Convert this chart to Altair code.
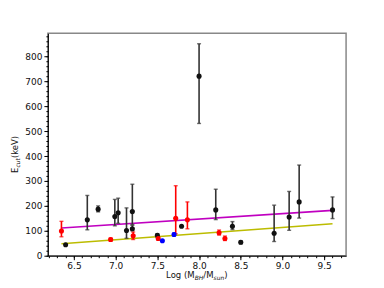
import altair as alt
import pandas as pd

# ---- data ----
black_x  = [6.40, 6.66, 6.79, 6.99, 7.03, 7.13, 7.20, 7.20, 7.50, 7.79, 8.00, 8.20, 8.40, 8.50, 8.90, 9.08, 9.20, 9.60]
black_y  = [44, 144, 187, 157, 172, 101, 177, 108, 82, 118, 721, 184, 118, 54, 90, 155, 216, 184]
black_lo = [None, 104, 176, 120, 130, 70, 125, 100, 75, None, 531, 145, 105, 48, 57, 102, 151, 149]
black_hi = [None, 242, 200, 226, 231, 192, 287, 122, 88, None, 851, 267, 137, 60, 203, 258, 364, 236]

red_x  = [6.35, 6.94, 7.21, 7.51, 7.72, 7.86, 8.24, 8.31]
red_y  = [99, 65, 80, 69, 150, 144, 92, 69]
red_lo = [76, 58, 65, 63, 88, 108, 83, 61]
red_hi = [138, 71, 95, 76, 281, 216, 103, 79]

blue_x  = [7.56, 7.70]
blue_y  = [60, 85]
blue_lo = [None, 80]
blue_hi = [None, 91]

fit_x = [6.35, 9.60]
fit_magenta = [111, 182]
fit_yellow = [48, 128]

x_major = [6.5, 7.0, 7.5, 8.0, 8.5, 9.0, 9.5]
x_minor = [round(6.2 + 0.1 * i, 1) for i in range(36)]
y_major = [0, 100, 200, 300, 400, 500, 600, 700, 800]
y_minor = list(range(0, 900, 20))

# ---- tables ----
rows = []
for g, xs_, ys_, los, his in [("black", black_x, black_y, black_lo, black_hi),
                              ("red", red_x, red_y, red_lo, red_hi),
                              ("blue", blue_x, blue_y, blue_lo, blue_hi)]:
    for a, b, c, d in zip(xs_, ys_, los, his):
        rows.append({"x": a, "y": b, "lo": c, "hi": d, "g": g})
df = pd.DataFrame(rows)

fits = pd.DataFrame(
    [{"x": a, "y": b, "f": "m"} for a, b in zip(fit_x, fit_magenta)] +
    [{"x": a, "y": b, "f": "y"} for a, b in zip(fit_x, fit_yellow)]
)

FONT = "DejaVu Sans"
xs = alt.Scale(domain=[6.1875, 9.7625], nice=False, zero=False)
ys = alt.Scale(domain=[0, 893], nice=False, zero=False)
col = alt.Color("g:N", scale=alt.Scale(domain=["black", "red", "blue"],
                                        range=["#111111", "#ff0000", "#0000ff"]), legend=None)
ecol = alt.Color("g:N", scale=alt.Scale(domain=["black", "red", "blue"],
                                         range=["#333333", "#ff0000", "#0000ff"]), legend=None)

ax_major_x = alt.Axis(values=x_major, format=".1f", tickSize=4, orient="bottom", grid=False,
                      domainColor="#000000", tickColor="#000000", labelFont=FONT, labelFontSize=9,
                      labelColor="#111111", title=None, labelPadding=2)
ax_major_y = alt.Axis(values=y_major, format="d", tickSize=4, orient="left", grid=False,
                      domainColor="#000000", tickColor="#000000", labelFont=FONT, labelFontSize=9,
                      labelColor="#111111", title=None, labelPadding=2)

lines = alt.Chart(fits).mark_line(strokeWidth=1.6).encode(
    x=alt.X("x:Q", scale=xs, axis=ax_major_x),
    y=alt.Y("y:Q", scale=ys, axis=ax_major_y),
    color=alt.Color("f:N", scale=alt.Scale(domain=["m", "y"], range=["#c000c0", "#bcbc00"]), legend=None),
    detail="f:N",
)

minor = alt.Chart(fits).mark_point(opacity=0).encode(
    x=alt.X("x:Q", scale=xs, axis=alt.Axis(values=x_minor, labels=False, tickSize=2, orient="bottom",
                                           domain=False, grid=False, title=None, tickColor="#000000")),
    y=alt.Y("y:Q", scale=ys, axis=alt.Axis(values=y_minor, labels=False, tickSize=2, orient="left",
                                           domain=False, grid=False, title=None, tickColor="#000000")),
)

err = alt.Chart(df).transform_filter("isValid(datum.lo)").mark_rule(strokeWidth=1.6).encode(
    x=alt.X("x:Q", scale=xs, axis=None), y=alt.Y("lo:Q", scale=ys, axis=None), y2="hi:Q", color=ecol)
cap_lo = alt.Chart(df).transform_filter("isValid(datum.lo)").mark_tick(
    orient="horizontal", size=4, thickness=1.4).encode(
    x=alt.X("x:Q", scale=xs, axis=None), y=alt.Y("lo:Q", scale=ys, axis=None), color=ecol)
cap_hi = alt.Chart(df).transform_filter("isValid(datum.hi)").mark_tick(
    orient="horizontal", size=4, thickness=1.4).encode(
    x=alt.X("x:Q", scale=xs, axis=None), y=alt.Y("hi:Q", scale=ys, axis=None), color=ecol)
pts = alt.Chart(df).mark_circle(size=26, opacity=1).encode(
    x=alt.X("x:Q", scale=xs, axis=None), y=alt.Y("y:Q", scale=ys, axis=None), color=col)

# axis titles with subscripts, as text pieces
def txt(s, x, y, size, angle=0, style="normal"):
    return alt.Chart(pd.DataFrame({"t": [s]})).mark_text(
        text=s, font=FONT, fontSize=size, angle=angle, align="left", baseline="alphabetic",
        fontStyle=style, color="#111111").encode(x=alt.value(x), y=alt.value(y))

xt_y = 245
xtitle = [
    txt("Log (M", 118.5, xt_y, 8.5),
    txt("BH", 147.2, xt_y + 2, 6, style="italic"),
    txt("/M", 155.9, xt_y, 8.5),
    txt("sun", 166.1, xt_y + 2, 6, style="italic"),
    txt(")", 176.9, xt_y, 8.5),
]
yt_x = -30
ytitle = [
    txt("E", yt_x, 140, 8.5, angle=270),
    txt("cut", yt_x + 2, 134.6, 6, angle=270, style="italic"),
    txt(" (keV)", yt_x, 125.1, 8.5, angle=270),
]

chart = alt.layer(minor, lines, err, cap_lo, cap_hi, pts, *xtitle, *ytitle).resolve_scale(
    color="independent"
).resolve_axis(x="independent", y="independent").properties(
    width=299, height=223,
    autosize=alt.AutoSizeParams(type="none"),
    padding={"left": 40, "top": 25, "right": 30, "bottom": 30},
).configure_view(stroke="#888888", strokeWidth=1.5)

chart.save("out.html", embed_options={"renderer": "svg", "actions": False})
